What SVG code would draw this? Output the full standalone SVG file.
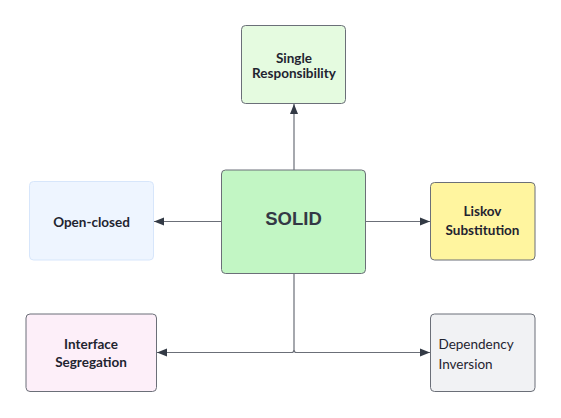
<svg xmlns="http://www.w3.org/2000/svg" width="561" height="418" viewBox="0 0 561 418">
<defs>
<style>
.node{stroke:#6b6f78;stroke-width:1}
.lbl{font-family:Lato,"Noto Sans",sans-serif;font-size:13.5px;font-weight:bold;fill:#1f2430;text-anchor:middle}
.lbln{font-family:Lato,"Noto Sans",sans-serif;font-size:13.5px;fill:#1f2430}
.edge{fill:none;stroke:#6b6f78;stroke-width:1.2}
</style>
<marker id="ah" viewBox="0 0 10 10" refX="10" refY="5" markerWidth="10" markerHeight="10" markerUnits="userSpaceOnUse" orient="auto">
<path d="M0,1 L10,5 L0,9 z" fill="#333a45"/>
</marker>
</defs>
<rect width="561" height="418" fill="#ffffff"/>
<g id="connectors">
<path class="edge" d="M294,170 V104" marker-end="url(#ah)"/>
<path class="edge" d="M221.5,221.5 H154" marker-end="url(#ah)" stroke="#b8bbc2"/>
<path class="edge" d="M365.5,221.5 H430" marker-end="url(#ah)"/>
<path class="edge" d="M294,273.5 V350 Q294,352.5 296.5,352.5 H430" marker-end="url(#ah)"/>
<path class="edge" d="M294,350 Q294,352.5 291.5,352.5 H157" marker-end="url(#ah)"/>
</g>
<g id="single">
<rect class="node" x="241.5" y="25.5" width="104" height="78" rx="4" fill="#e5fbe0"/>
<text class="lbl" x="294" y="62.5">Single</text>
<text class="lbl" x="294" y="78">Responsibility</text>
</g>
<g id="solid">
<rect class="node" x="221.5" y="170" width="144" height="103.5" rx="4" fill="#c2f6c4"/>
<text x="293.5" y="225" font-family="'Liberation Sans',Arial,sans-serif" font-size="18.5" font-weight="bold" fill="#333845" text-anchor="middle">SOLID</text>
</g>
<g id="openclosed">
<rect x="29.5" y="181.5" width="124" height="78.5" rx="4" fill="#eef5ff" stroke="#d7e6fb" stroke-width="1"/>
<text class="lbl" x="91.5" y="226.5">Open-closed</text>
</g>
<g id="liskov">
<rect class="node" x="430.5" y="182.5" width="104.5" height="77.5" rx="4" fill="#fff59f"/>
<text class="lbl" x="482.5" y="216">Liskov</text>
<text class="lbl" x="482.5" y="234.5">Substitution</text>
</g>
<g id="interface">
<rect class="node" x="26" y="314" width="130.5" height="77.5" rx="4" fill="#fdeff9"/>
<text class="lbl" x="91" y="349">Interface</text>
<text class="lbl" x="91" y="367">Segregation</text>
</g>
<g id="dependency">
<rect class="node" x="430.5" y="314" width="104.5" height="77.5" rx="4" fill="#f1f2f4"/>
<text class="lbln" x="438.5" y="348.5">Dependency</text>
<text class="lbln" x="438.5" y="368.5">Inversion</text>
</g>
</svg>
